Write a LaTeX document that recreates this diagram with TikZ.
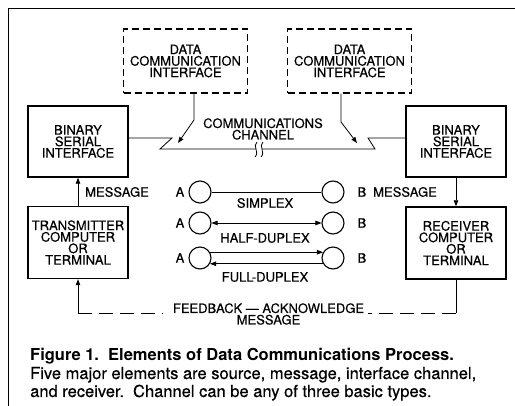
\documentclass[tikz,border=0pt]{standalone}
\usepackage{fontspec}
\setmainfont{TeX Gyre Heros}
\newfontfamily\lblfont[FakeBold=0.4,Ligatures=TeX]{TeX Gyre Heros}
\usetikzlibrary{arrows.meta,calc}
\begin{document}
\begin{tikzpicture}[x=1pt,y=-1pt,
  lbl/.style={font=\lblfont\fontsize{13}{11.5}\selectfont, align=center, inner sep=0pt},
  solidbox/.style={draw, line width=1.4pt, minimum width=100pt, minimum height=71pt, lbl},
  dashbox/.style={draw, line width=1.4pt, dash pattern=on 7pt off 4pt, minimum width=124pt, minimum height=64pt, lbl},
  circ/.style={draw, line width=1.1pt, circle, minimum size=22pt, inner sep=0pt},
  conn/.style={line width=0.8pt},
  tip/.style={-{Triangle[length=6pt,width=4.5pt]}},
  fb/.style={conn, dash pattern=on 14pt off 7pt},
  captxt/.style={font=\lblfont\fontsize{16.5}{18}\selectfont, anchor=base west, inner sep=0pt}
]
\useasboundingbox (0,0) rectangle (515,406);
\draw[line width=0.8pt] (8,406) -- (8,8) -- (515,8);

% dashed interface boxes
\node[dashbox] (dc1) at (185.5,61) {DATA\\COMMUNICATION\\INTERFACE};
\node[dashbox] (dc2) at (349.5,61) {DATA\\COMMUNICATION\\INTERFACE};

% solid boxes
\node[solidbox] (bsiL) at (78,141.5) {BINARY\\SERIAL\\INTERFACE};
\node[solidbox] (bsiR) at (456,141.5) {BINARY\\SERIAL\\INTERFACE};
\node[solidbox, minimum height=72pt] (tx) at (78,242.5) {TRANSMITTER\\COMPUTER\\OR\\TERMINAL};
\node[solidbox, minimum height=72pt] (rx) at (456,243) {RECEIVER\\COMPUTER\\OR\\TERMINAL};

% communications channel
\coordinate (zl1) at (172,138);
\coordinate (zl2) at (160,149);
\coordinate (brL) at (256,149);
\coordinate (brR) at (262,149);
\coordinate (zr1) at (375,149);
\coordinate (zr2) at (368,138);
\draw[conn] (bsiL.east |- zl1) -- (zl1) -- (zl2) -- (brL);
\draw[conn] (brR) -- (zr1) -- (zr2) -- (bsiR.west |- zr2);
\draw[conn] (257,142) .. controls (252,146) and (260,152) .. (255,157);
\draw[conn] (263,142) .. controls (258,146) and (266,152) .. (261,157);
\node[lbl] (chan) at (263,129) {COMMUNICATIONS\\CHANNEL};

% interface arrows
\coordinate (k1) at (194,120);
\coordinate (t1) at (178,143);
\coordinate (k2) at (341,122);
\coordinate (t2) at (357,143);
\draw[conn, tip] (dc1.south -| k1) -- (k1) -- (t1);
\draw[conn, tip] (dc2.south -| k2) -- (k2) -- (t2);

% message arrows
\draw[conn, tip] (tx.north) -- (bsiL.south);
\draw[conn, tip] (bsiR.south) -- (rx.north);
\node[lbl, anchor=west] (msgL) at (85,192) {MESSAGE};

% channel types
\node[circ] (a1) at (200,192) {};
\node[circ] (b1) at (333,192) {};
\node[circ] (a2) at (200,223) {};
\node[circ] (b2) at (333,223) {};
\node[circ] (a3) at (200,258) {};
\node[circ] (b3) at (333,258) {};
\node[lbl] (la1) at (180,192) {A};
\node[lbl] (la2) at (180,223) {A};
\node[lbl] (la3) at (180,258) {A};
\node[lbl] (lb1) at (362,192) {B};
\node[lbl] (lb2) at (362,223) {B};
\node[lbl] (lb3) at (362,258) {B};
\node[lbl, anchor=west] (msgR) at (373,192) {MESSAGE};

\draw[conn] (a1) -- (b1);
\draw[conn, {Triangle[length=6pt,width=4.5pt]}-{Triangle[length=6pt,width=4.5pt]}] (a2) -- (b2);
\draw[conn, tip] (a3.30) -- (b3.150);
\draw[conn, tip] (b3.-150) -- (a3.-30);
\node[lbl] (simp) at (265,203) {SIMPLEX};
\node[lbl] (half) at (265,238) {HALF-DUPLEX};
\node[lbl] (full) at (265,277) {FULL-DUPLEX};

% feedback
\coordinate (fbR) at (rx.south |- 0,313);
\coordinate (fbL) at (tx.south |- 0,313);
\coordinate (fbRe) at (368,313);
\coordinate (fbLe) at (163,313);
\draw[conn] (rx.south) -- (fbR);
\draw[fb] (fbR) -- (fbRe);
\draw[conn, tip] (fbL) -- (tx.south);
\draw[fb] (fbL) -- (fbLe);
\node[lbl] (fbt) at (268.5,314) {FEEDBACK — ACKNOWLEDGE\\MESSAGE};

% caption
\node[captxt, font=\fontsize{16.5}{18}\selectfont\bfseries] (c1) at (30,361) {Figure 1.\ \ Elements of Data Communications Process.};
\node[captxt] (c2) at (30,379) {Five major elements are source, message, interface channel,};
\node[captxt] (c3) at (30,397) {and receiver.\ \ Channel can be any of three basic types.};
\end{tikzpicture}
\end{document}
